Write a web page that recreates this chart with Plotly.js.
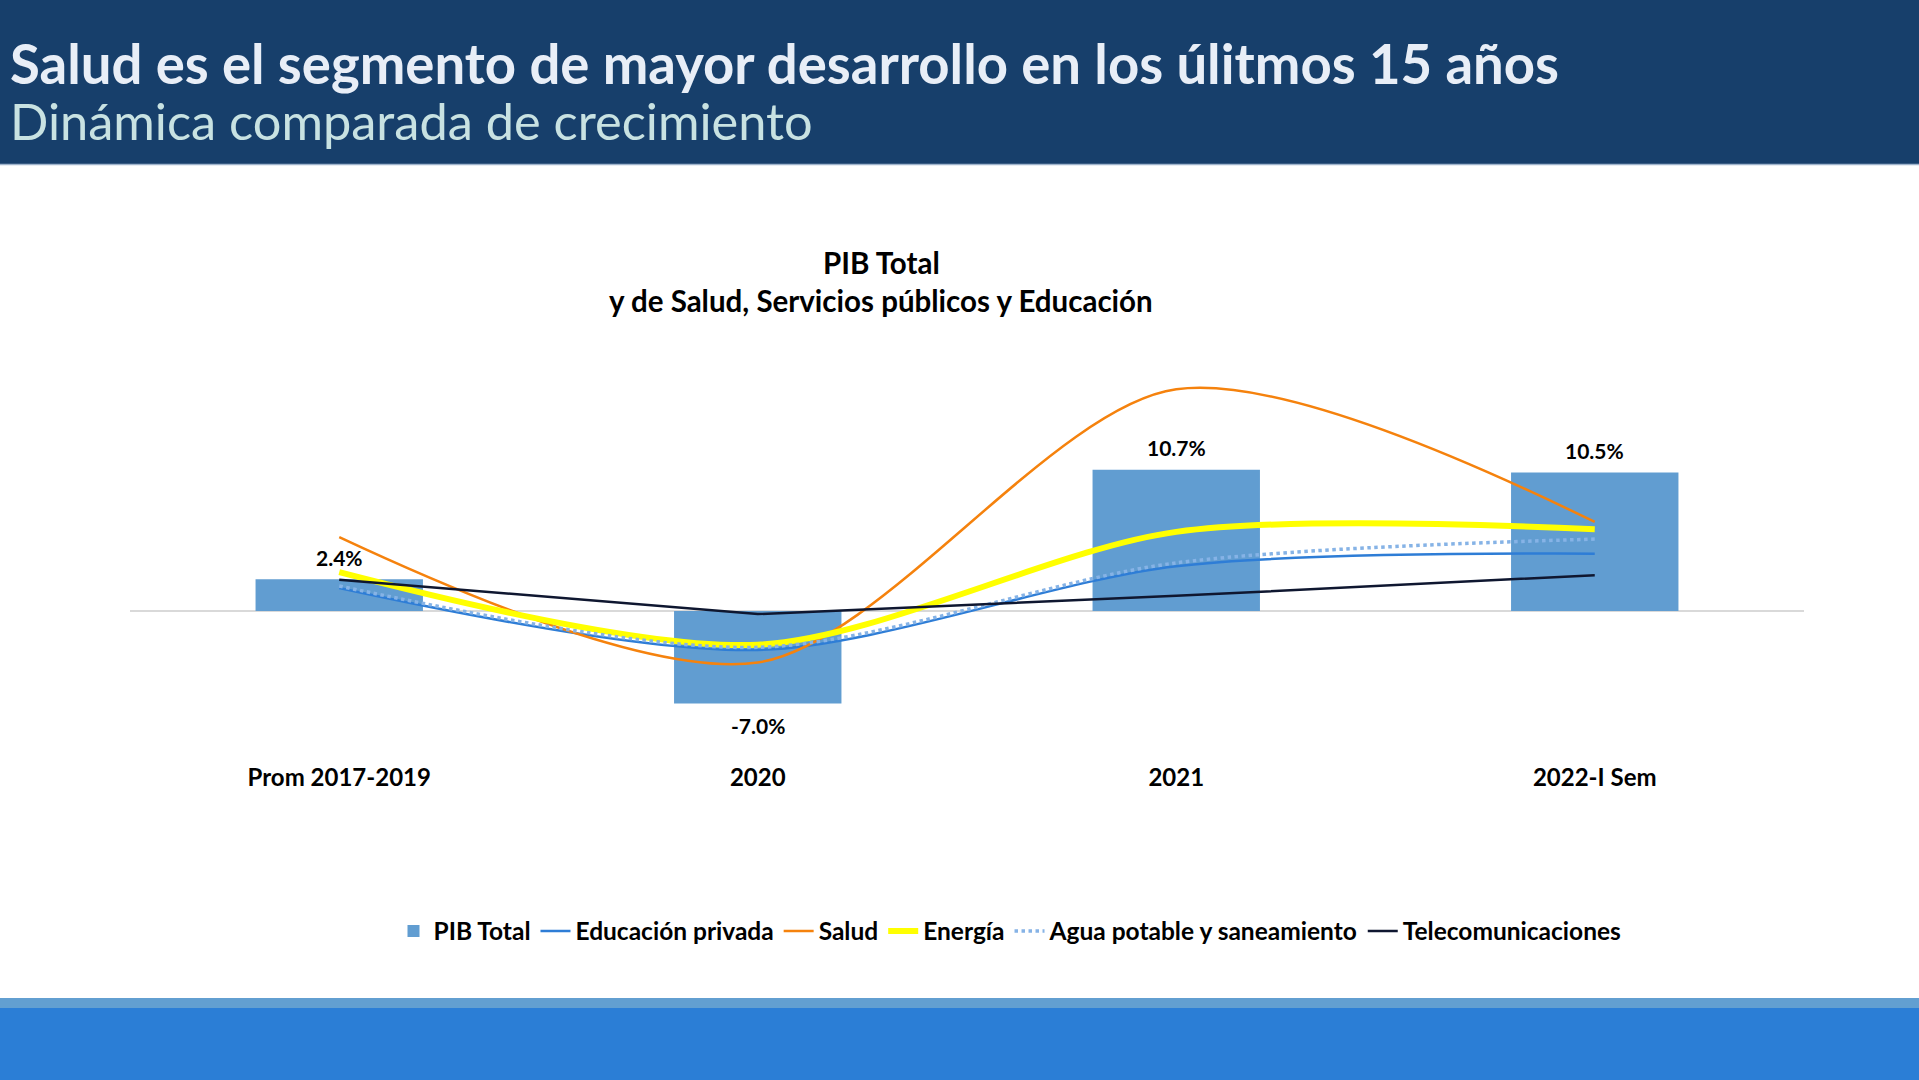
<!DOCTYPE html>
<html>
<head>
<meta charset="utf-8">
<script src="https://cdn.plot.ly/plotly-3.0.1.min.js"></script>
<style>
html,body{margin:0;padding:0;background:#fff;overflow:hidden;}
#chart{width:1919px;height:1080px;}
</style>
</head>
<body>
<div id="chart"></div>
<script>
// ---- Data ----
const categories = ["Prom 2017-2019", "2020", "2021", "2022-I Sem"];
const pibTotal = [2.4, -7.0, 10.7, 10.5];
const educacionPrivada = [1.75, -2.95, 3.4, 4.35];
const salud = [5.6, -3.9, 16.8, 6.75];
const energia = [2.95, -2.55, 6.0, 6.2];
const aguaPotable = [1.9, -2.75, 3.65, 5.45];
const telecomunicaciones = [2.38, -0.23, 1.15, 2.72];

const titleText = "Salud es el segmento de mayor desarrollo en los úlitmos 15 años";
const subtitleText = "Dinámica comparada de crecimiento";
const chartTitle1 = "PIB Total";
const chartTitle2 = "y de Salud, Servicios públicos y Educación";

// ---- Layout helpers (pixel -> paper) ----
const M = {l: 130, r: 115, t: 299, b: 326};
const PW = 1919 - M.l - M.r, PH = 1080 - M.t - M.b;
const px = x => (x - M.l) / PW;
const py = y => (1080 - M.b - y) / PH;

const FONT = "Lato, 'Open Sans', sans-serif";
const SMOOTH = 0.85;

const traces = [
  {type: "bar", name: "PIB Total", x: categories, y: pibTotal, width: 0.4,
   marker: {color: "#619DD1"}, hoverinfo: "skip"},
  {type: "scatter", mode: "lines", name: "Educación privada", x: categories, y: educacionPrivada,
   line: {color: "#2E7DD6", width: 2.5, shape: "spline", smoothing: SMOOTH}},
  {type: "scatter", mode: "lines", name: "Salud", x: categories, y: salud,
   line: {color: "#F5820D", width: 2.5, shape: "spline", smoothing: SMOOTH}},
  {type: "scatter", mode: "lines", name: "Energía", x: categories, y: energia,
   line: {color: "#FFFF00", width: 6, shape: "spline", smoothing: SMOOTH}},
  {type: "scatter", mode: "lines", name: "Agua potable y saneamiento", x: categories, y: aguaPotable,
   line: {color: "#86B3E6", width: 3.5, dash: "dot", shape: "spline", smoothing: SMOOTH}},
  {type: "scatter", mode: "lines", name: "Telecomunicaciones", x: categories, y: telecomunicaciones,
   line: {color: "#0F1730", width: 2.5}}
];

// data labels for the bars, positioned by category index on the category axis
const labelAnns = pibTotal.map((v, i) => ({
  x: i, y: v, xref: "x", yref: "y",
  text: v.toFixed(1) + "%", showarrow: false,
  yshift: v >= 0 ? 22 : -22, yanchor: "middle",
  font: {family: FONT, size: 21, color: "#000", weight: 700}
}));

const layout = {
  width: 1919, height: 1080,
  margin: M,
  paper_bgcolor: "#ffffff", plot_bgcolor: "rgba(0,0,0,0)",
  showlegend: true,
  font: {family: FONT, color: "#000"},
  xaxis: {type: "category", range: [-0.5, 3.5], showgrid: false, zeroline: false, showline: false,
          ticks: "", ticklabelstandoff: 7,
          tickfont: {family: FONT, size: 24, color: "#000", weight: 700}, fixedrange: true},
  yaxis: {range: [-10.83, 23.64], showgrid: false, showticklabels: false, ticks: "",
          zeroline: true, zerolinecolor: "#D9D9D9", zerolinewidth: 1.5, showline: false, fixedrange: true},
  legend: {orientation: "h", x: px(1010), xanchor: "center", y: py(931), yanchor: "middle",
           font: {family: FONT, size: 24.5, color: "#000", weight: 700}, traceorder: "normal",
           itemwidth: 30, bgcolor: "rgba(0,0,0,0)"},
  shapes: [
    {type: "rect", xref: "paper", yref: "paper", x0: px(0), x1: px(1919), y0: py(0), y1: py(164),
     fillcolor: "#173F6B", line: {width: 0}, layer: "below"},
    {type: "line", xref: "paper", yref: "paper", x0: px(0), x1: px(1919), y0: py(164.5), y1: py(164.5),
     line: {color: "#9FB4CC", width: 1.5}, layer: "below"},
    {type: "rect", xref: "paper", yref: "paper", x0: px(0), x1: px(1919), y0: py(998), y1: py(1008),
     fillcolor: "#629FD1", line: {width: 0}, layer: "below"},
    {type: "rect", xref: "paper", yref: "paper", x0: px(0), x1: px(1919), y0: py(1008), y1: py(1081),
     fillcolor: "#2B7ED6", line: {width: 0}, layer: "below"}
  ],
  annotations: [
    {xref: "paper", yref: "paper", x: px(8), y: py(63), xanchor: "left", yanchor: "middle",
     text: titleText, showarrow: false,
     font: {family: FONT, size: 54.5, color: "#E8EEF7", weight: 700}},
    {xref: "paper", yref: "paper", x: px(8), y: py(120), xanchor: "left", yanchor: "middle",
     text: subtitleText, showarrow: false,
     font: {family: FONT, size: 50.5, color: "#C8E2E2", weight: 400}},
    {xref: "paper", yref: "paper", x: px(881), y: py(262), xanchor: "center", yanchor: "middle",
     text: chartTitle1, showarrow: false,
     font: {family: FONT, size: 29.5, color: "#000", weight: 700}},
    {xref: "paper", yref: "paper", x: px(881), y: py(300), xanchor: "center", yanchor: "middle",
     text: chartTitle2, showarrow: false,
     font: {family: FONT, size: 29.5, color: "#000", weight: 700}}
  ].concat(labelAnns)
};

Plotly.newPlot("chart", traces, layout, {displayModeBar: false, staticPlot: true});
</script>
</body>
</html>
